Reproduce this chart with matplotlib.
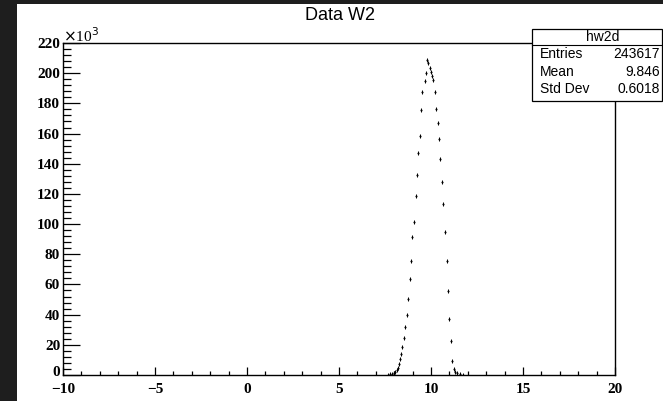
"""ROOT-style histogram of W2 from data, redrawn with matplotlib."""

import matplotlib
matplotlib.use("Agg")
import matplotlib.pyplot as plt
from matplotlib.patches import Rectangle
from matplotlib.ticker import MultipleLocator
from matplotlib.transforms import ScaledTranslation

# bin centres (W2) and contents in units of 10^3
w2 = [7.663, 7.772, 7.880, 7.962, 8.043, 8.125, 8.196, 8.261, 8.326, 8.386,
      8.451, 8.522, 8.598, 8.674, 8.761, 8.842, 8.902, 8.978, 9.049, 9.168,
      9.239, 9.310, 9.380, 9.457, 9.527, 9.674, 9.745, 9.799, 9.853, 9.929,
      10.000, 10.054, 10.109, 10.217, 10.293, 10.364, 10.446, 10.505, 10.582,
      10.652, 10.777, 10.870, 10.940, 10.995, 11.076, 11.158, 11.223, 11.304,
      11.413, 11.576, 11.739]
counts_k = [0.3, 0.5, 0.8, 1.2, 1.8, 3.0, 4.6, 7.3, 10.6, 14.2,
            18.6, 24.5, 31.8, 39.8, 50.4, 63.6, 75.5, 91.4, 101.4, 118.6,
            132.5, 147.1, 158.4, 175.6, 187.5, 194.5, 199.9, 208.7, 206.6, 203.2,
            201.0, 198.1, 195.5, 187.7, 176.3, 166.7, 156.2, 143.1, 128.1,
            113.1, 95.0, 75.5, 55.7, 36.8, 22.2, 9.6, 4.3, 2.0,
            1.0, 0.5, 0.3]

hist_name = "hw2d"
stat_labels = ["Entries", "Mean", "Std Dev"]
stat_values = ["243617", "9.846", "0.6018"]

W, H = 663, 401
fig = plt.figure(figsize=(W / 100, H / 100), dpi=100)
fig.patch.set_facecolor("white")

# dark screenshot border on the left and top
fig.patches.append(Rectangle((0, 0), 17 / W, 1, transform=fig.transFigure,
                             facecolor="#1e1e1e", edgecolor="none", zorder=-5))
fig.patches.append(Rectangle((0, 1 - 4 / H), 1, 4 / H, transform=fig.transFigure,
                             facecolor="#1e1e1e", edgecolor="none", zorder=-5))

ax = fig.add_axes([63 / W, 1 - 375 / H, (615 - 63) / W, (375 - 43) / H])
ax.set_xlim(-10, 20)
ax.set_ylim(0, 220)

ax.plot(w2, counts_k, linestyle="none", marker="|", markersize=3,
        markeredgewidth=0.7, color="black")
ax.plot(w2, counts_k, linestyle="none", marker="o", markersize=1.5,
        markeredgewidth=0, color="black")

for s in ax.spines.values():
    s.set_linewidth(1.0)

ax.xaxis.set_major_locator(MultipleLocator(5))
ax.xaxis.set_minor_locator(MultipleLocator(1))
ax.yaxis.set_major_locator(MultipleLocator(20))
ax.yaxis.set_minor_locator(MultipleLocator(4))
ax.tick_params(axis="both", which="both", direction="in", top=False, right=False,
               width=0.9, color="black")
ax.tick_params(axis="y", which="major", length=12, pad=2)
ax.tick_params(axis="y", which="minor", length=5.5)
ax.tick_params(axis="x", which="major", length=6, pad=6)
ax.tick_params(axis="x", which="minor", length=3)

ax.set_xticks([-10, -5, 0, 5, 10, 15, 20])
ax.set_xticklabels(["\u221210", "\u22125", "0", "5", "10", "15", "20"])
ax.set_yticks(list(range(0, 221, 20)))
ax.set_yticklabels([str(v) for v in range(0, 221, 20)])
for lab in ax.get_xticklabels() + ax.get_yticklabels():
    lab.set_fontfamily("Liberation Serif")
    lab.set_fontweight("bold")
    lab.set_fontsize(11)

# ROOT keeps the bottom y label clear of the x labels, lift it a little
zero_lab = ax.yaxis.get_major_ticks()[0].label1
zero_lab.set_transform(zero_lab.get_transform()
                       + ScaledTranslation(0, 4 / 100, fig.dpi_scale_trans))

fig.text(63 / W, 1 - 42 / H, r"$\times$10$^{3}$", fontfamily="Liberation Serif",
         fontsize=11, ha="left", va="baseline")

fig.text(340 / W, 1 - 15 / H, "Data W2", fontfamily="Liberation Sans",
         fontsize=13, ha="center", va="center")

# stats box
bx0, bx1, by0, by1 = 532, 662, 29, 101
fig.patches.append(Rectangle((bx0 / W, 1 - by1 / H), (bx1 - bx0) / W, (by1 - by0) / H,
                             transform=fig.transFigure, facecolor="white",
                             edgecolor="black", linewidth=0.9, zorder=5))
fig.add_artist(plt.Line2D([bx0 / W, bx1 / W], [1 - 45 / H, 1 - 45 / H],
                          transform=fig.transFigure, color="black", linewidth=0.8, zorder=6))
fig.text(603 / W, 1 - 37 / H, hist_name, fontfamily="Liberation Sans", fontsize=10,
         ha="center", va="center", zorder=7)
for i, (lab, val) in enumerate(zip(stat_labels, stat_values)):
    yc = 1 - (54 + i * 17.5) / H
    fig.text(540 / W, yc, lab, fontfamily="Liberation Sans", fontsize=10,
             ha="left", va="center", zorder=7)
    fig.text(660 / W, yc, val, fontfamily="Liberation Sans", fontsize=10,
             ha="right", va="center", zorder=7)

fig.savefig("out.png", dpi=100)
